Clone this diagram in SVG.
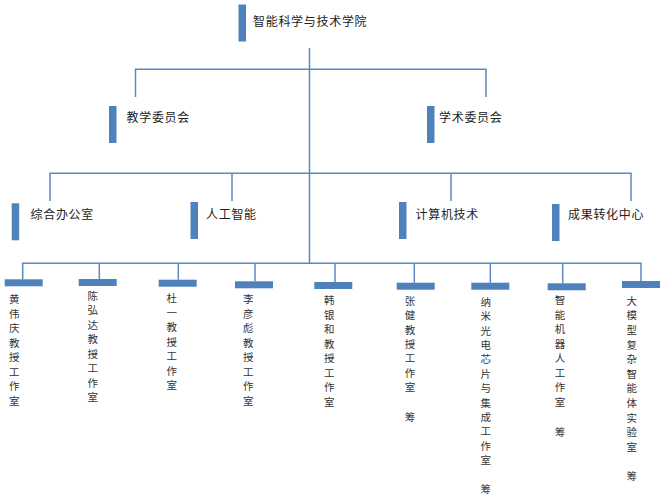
<svg xmlns="http://www.w3.org/2000/svg" width="665" height="500" viewBox="0 0 665 500">
<style>
.bar{fill:#4F81BD}
.ln{stroke:#5B88C0;stroke-width:1.5;fill:none}
.h{font-family:"Noto Sans CJK SC","Noto Sans",sans-serif;font-size:12px;letter-spacing:0.7px;fill:#222}
.v{font-family:"Noto Sans CJK SC","Noto Sans",sans-serif;font-size:10.5px;fill:#333;text-anchor:middle}
</style>
<rect width="665" height="500" fill="#fff"/>
<g id="connectors">
<path class="ln" d="M309.5 48V263.3"/>
<path class="ln" d="M135.5 97V69.3H486V97"/>
<path class="ln" d="M50 201V173.3H631V201M232 173.3V201M451 173.3V201"/>
<path class="ln" d="M22.7 279.3V263.3H641V281M99.3 263.3V279M178.3 263.3V279.7M255 263.3V281.3M335 263.3V282M414.3 263.3V282.7M490.3 263.3V282.7M562.7 263.3V283.3"/>
</g>
<g id="n-root"><rect class="bar" x="238.5" y="4.5" width="7.5" height="37"/><text class="h" x="253" y="26">智能科学与技术学院</text></g>
<g id="n-jiaoxue"><rect class="bar" x="109" y="106" width="7.5" height="37"/><text class="h" x="126.5" y="121.5">教学委员会</text></g>
<g id="n-xueshu"><rect class="bar" x="427" y="106" width="7.5" height="37"/><text class="h" x="439" y="121.5">学术委员会</text></g>
<g id="n-zonghe"><rect class="bar" x="11.7" y="203.3" width="7.5" height="37"/><text class="h" x="30.5" y="219">综合办公室</text></g>
<g id="n-rengong"><rect class="bar" x="190.5" y="202" width="7.5" height="37"/><text class="h" x="206" y="219">人工智能</text></g>
<g id="n-jisuanji"><rect class="bar" x="399" y="202" width="7.5" height="37"/><text class="h" x="415.5" y="219">计算机技术</text></g>
<g id="n-chengguo"><rect class="bar" x="552" y="204" width="7.5" height="37"/><text class="h" x="568" y="219">成果转化中心</text></g>
<g id="n-l1"><rect class="bar" x="4.7" y="279.3" width="38" height="7"/><text class="v" x="14.3" y="303.3"><tspan x="14.3">黄</tspan><tspan x="14.3" dy="14.5">伟</tspan><tspan x="14.3" dy="14.5">庆</tspan><tspan x="14.3" dy="14.5">教</tspan><tspan x="14.3" dy="14.5">授</tspan><tspan x="14.3" dy="14.5">工</tspan><tspan x="14.3" dy="14.5">作</tspan><tspan x="14.3" dy="14.5">室</tspan></text></g>
<g id="n-l2"><rect class="bar" x="78.7" y="279" width="38" height="7"/><text class="v" x="92.7" y="299.7"><tspan x="92.7">陈</tspan><tspan x="92.7" dy="14.5">弘</tspan><tspan x="92.7" dy="14.5">达</tspan><tspan x="92.7" dy="14.5">教</tspan><tspan x="92.7" dy="14.5">授</tspan><tspan x="92.7" dy="14.5">工</tspan><tspan x="92.7" dy="14.5">作</tspan><tspan x="92.7" dy="14.5">室</tspan></text></g>
<g id="n-l3"><rect class="bar" x="158.7" y="279.7" width="38" height="7"/><text class="v" x="171.7" y="302.3"><tspan x="171.7">杜</tspan><tspan x="171.7" dy="14.5">一</tspan><tspan x="171.7" dy="14.5">教</tspan><tspan x="171.7" dy="14.5">授</tspan><tspan x="171.7" dy="14.5">工</tspan><tspan x="171.7" dy="14.5">作</tspan><tspan x="171.7" dy="14.5">室</tspan></text></g>
<g id="n-l4"><rect class="bar" x="235" y="281.3" width="38" height="7"/><text class="v" x="248.3" y="303.3"><tspan x="248.3">李</tspan><tspan x="248.3" dy="14.5">彦</tspan><tspan x="248.3" dy="14.5">彪</tspan><tspan x="248.3" dy="14.5">教</tspan><tspan x="248.3" dy="14.5">授</tspan><tspan x="248.3" dy="14.5">工</tspan><tspan x="248.3" dy="14.5">作</tspan><tspan x="248.3" dy="14.5">室</tspan></text></g>
<g id="n-l5"><rect class="bar" x="314.3" y="282" width="38" height="7"/><text class="v" x="329.3" y="304"><tspan x="329.3">韩</tspan><tspan x="329.3" dy="14.5">银</tspan><tspan x="329.3" dy="14.5">和</tspan><tspan x="329.3" dy="14.5">教</tspan><tspan x="329.3" dy="14.5">授</tspan><tspan x="329.3" dy="14.5">工</tspan><tspan x="329.3" dy="14.5">作</tspan><tspan x="329.3" dy="14.5">室</tspan></text></g>
<g id="n-l6"><rect class="bar" x="396.7" y="282.7" width="38" height="7"/><text class="v" x="410" y="304.7"><tspan x="410">张</tspan><tspan x="410" dy="14.4">健</tspan><tspan x="410" dy="14.4">教</tspan><tspan x="410" dy="14.4">授</tspan><tspan x="410" dy="14.4">工</tspan><tspan x="410" dy="14.4">作</tspan><tspan x="410" dy="14.4">室</tspan><tspan x="410" dy="29.6">筹</tspan></text></g>
<g id="n-l7"><rect class="bar" x="471.3" y="282.7" width="38" height="7"/><text class="v" x="485.7" y="305.7"><tspan x="485.7">纳</tspan><tspan x="485.7" dy="14.4">米</tspan><tspan x="485.7" dy="14.4">光</tspan><tspan x="485.7" dy="14.4">电</tspan><tspan x="485.7" dy="14.4">芯</tspan><tspan x="485.7" dy="14.4">片</tspan><tspan x="485.7" dy="14.4">与</tspan><tspan x="485.7" dy="14.4">集</tspan><tspan x="485.7" dy="14.4">成</tspan><tspan x="485.7" dy="14.4">工</tspan><tspan x="485.7" dy="14.4">作</tspan><tspan x="485.7" dy="14.4">室</tspan><tspan x="485.7" dy="28.6">筹</tspan></text></g>
<g id="n-l8"><rect class="bar" x="547.7" y="283.3" width="38" height="7"/><text class="v" x="560" y="304"><tspan x="560">智</tspan><tspan x="560" dy="14.5">能</tspan><tspan x="560" dy="14.5">机</tspan><tspan x="560" dy="14.5">器</tspan><tspan x="560" dy="14.5">人</tspan><tspan x="560" dy="14.5">工</tspan><tspan x="560" dy="14.5">作</tspan><tspan x="560" dy="14.5">室</tspan><tspan x="560" dy="30">筹</tspan></text></g>
<g id="n-l9"><rect class="bar" x="622" y="281" width="38" height="7"/><text class="v" x="631.7" y="304.7"><tspan x="631.7">大</tspan><tspan x="631.7" dy="14.6">模</tspan><tspan x="631.7" dy="14.6">型</tspan><tspan x="631.7" dy="14.6">复</tspan><tspan x="631.7" dy="14.6">杂</tspan><tspan x="631.7" dy="14.6">智</tspan><tspan x="631.7" dy="14.6">能</tspan><tspan x="631.7" dy="14.6">体</tspan><tspan x="631.7" dy="14.6">实</tspan><tspan x="631.7" dy="14.6">验</tspan><tspan x="631.7" dy="14.6">室</tspan><tspan x="631.7" dy="29.3">筹</tspan></text></g>
</svg>
